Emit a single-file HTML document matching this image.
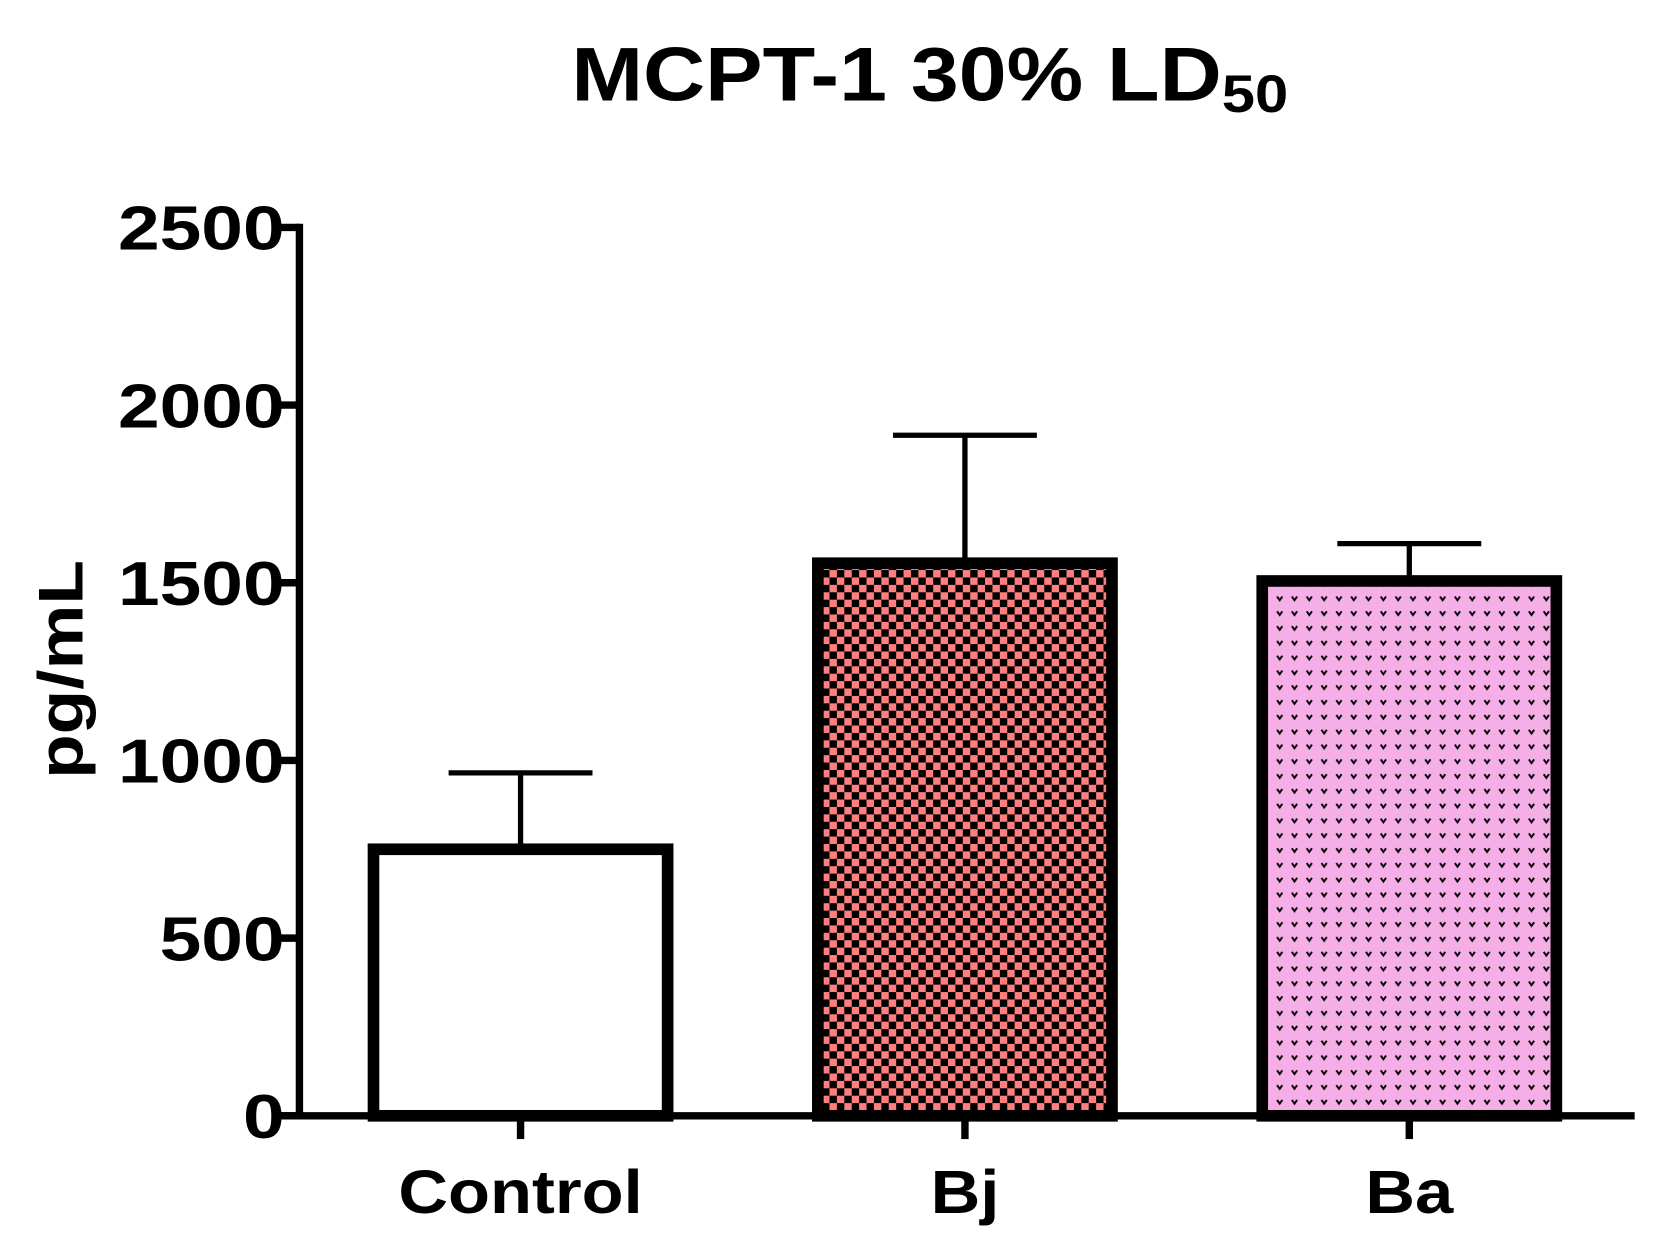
<!DOCTYPE html>
<html><head><meta charset="utf-8"><style>
html,body{margin:0;padding:0;background:#fff;}
svg{display:block;}
text{font-family:"Liberation Sans",Arial,sans-serif;font-weight:bold;fill:#000;}
</style></head><body>
<svg id="chart" width="1659" height="1248" viewBox="0 0 1568 1180" preserveAspectRatio="none" xmlns="http://www.w3.org/2000/svg">
<defs>
<pattern id="checker" width="14" height="14" patternUnits="userSpaceOnUse">
<rect width="14" height="14" fill="#ff7f7f"/>
<rect width="7" height="7" fill="#000"/>
<rect x="7" y="7" width="7" height="7" fill="#000"/>
</pattern>
<pattern id="dots" width="14" height="14" patternUnits="userSpaceOnUse">
<rect width="14" height="14" fill="#f6aee6"/>
<path d="M3 4 l2.5 3.5 l2.5 -3.5" stroke="#000" stroke-width="1.8" fill="none"/>
</pattern>
</defs>
<text transform="translate(540,95) scale(1.13,1)" font-size="72">MCPT-1 30% LD<tspan font-size="50" dy="11">50</tspan></text>
<text transform="translate(78,633) rotate(-90) scale(1.15,1)" font-size="60" text-anchor="middle">pg/mL</text>
<g id="plot"></g>
</svg>
<script>
const categories = ["Control","Bj","Ba"];
const means = [750, 1555, 1505];
const errors = [215, 360, 105];
const yTicks = [0,500,1000,1500,2000,2500];
const fills = ["#ffffff","url(#checker)","url(#dots)"];

const NS="http://www.w3.org/2000/svg";
const g=document.getElementById('plot');
const axX=283, y0=1055, yTop=215, yMax=2500;
const xStart=283, xEnd=1545;
const yScale=v=>y0-(v/yMax)*(y0-yTop);
const xCenter=i=>492+i*420;
const barW=278;
function mk(tag,attrs){const e=document.createElementNS(NS,tag);for(const k in attrs)e.setAttribute(k,attrs[k]);g.appendChild(e);return e;}

categories.forEach((c,i)=>{
  const cx=xCenter(i), top=yScale(means[i]), et=yScale(means[i]+errors[i]);
  const eb=mk('line',{x1:cx,x2:cx,y1:top,y2:et,stroke:'#000','stroke-width':5});
  
  
  const cap=mk('line',{x1:cx-68,x2:cx+68,y1:et,y2:et,stroke:'#000','stroke-width':5});
  
  
  const r=mk('rect',{x:cx-barW/2,y:top,width:barW,height:y0-top,fill:fills[i],stroke:'#000','stroke-width':11});
  
  
  const t=mk('line',{x1:cx,x2:cx,y1:y0,y2:y0+22,stroke:'#000','stroke-width':7});
  
  
  const l=mk('text',{transform:'translate('+cx+',1147) scale(1.12,1)','font-size':58,'text-anchor':'middle'});
  l.textContent=c;
  
  
});
const ya=mk('line',{x1:axX,x2:axX,y1:yTop-3.5,y2:y0+3.5,stroke:'#000','stroke-width':7});


const xa=mk('line',{x1:xStart-24,x2:xEnd,y1:y0,y2:y0,stroke:'#000','stroke-width':7});


yTicks.forEach(v=>{
  const y=yScale(v);
  const t=mk('line',{x1:axX-26,x2:axX,y1:y,y2:y,stroke:'#000','stroke-width':7});
  
  
  const l=mk('text',{transform:'translate('+(axX-14)+','+(y+21)+') scale(1.2,1)','font-size':59,'text-anchor':'end'});
  l.textContent=v;
  
  
});
</script>
</body></html>
